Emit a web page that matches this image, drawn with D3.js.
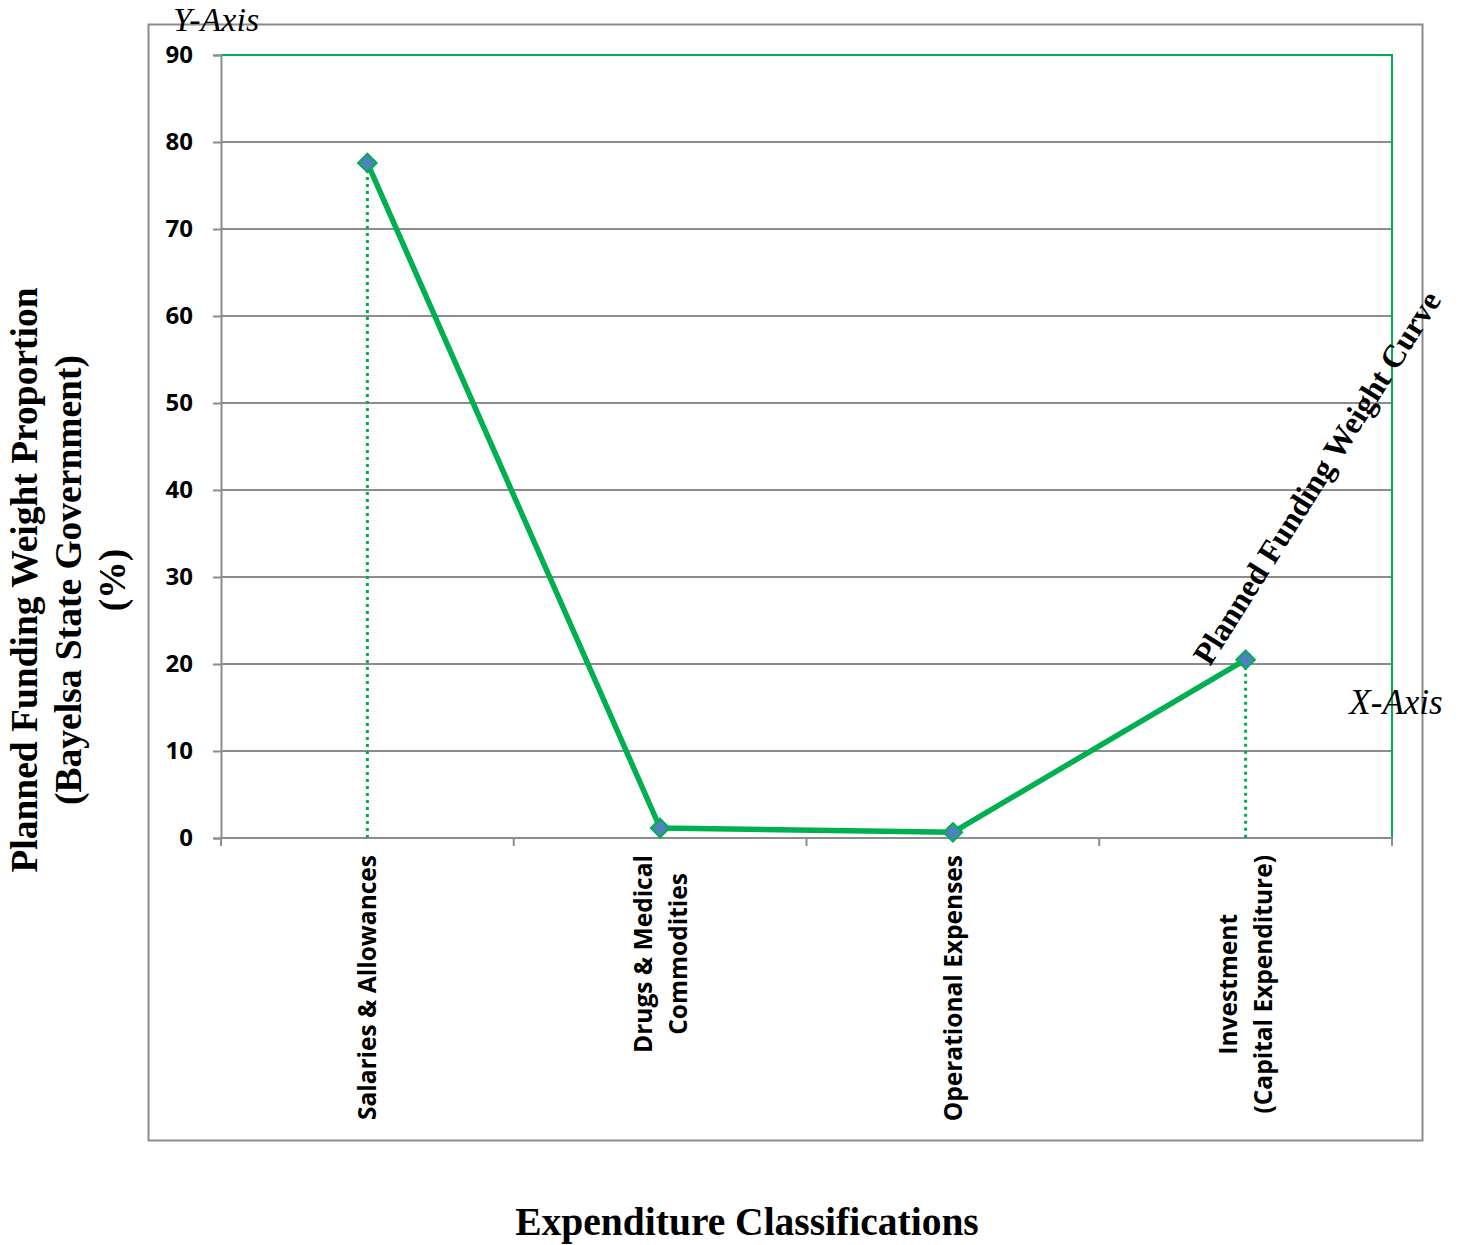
<!DOCTYPE html>
<html>
<head>
<meta charset="utf-8">
<script src="https://cdn.jsdelivr.net/npm/d3@7"></script>
<style>
  body { margin: 0; background: #fff; }
  svg { display: block; }
</style>
</head>
<body>
<div id="chart"></div>
<script>
// chart data
const categories = [
  ["Salaries & Allowances"],
  ["Drugs & Medical", "Commodities"],
  ["Operational Expenses"],
  ["Investment", "(Capital Expenditure)"]
];
const weights = [77.6, 1.15, 0.65, 20.5];
const yTicks = [0, 10, 20, 30, 40, 50, 60, 70, 80, 90];
const yTitleLines = ["Planned Funding Weight Proportion", "(Bayelsa State Government)", "(%)"];
const xTitle = "Expenditure Classifications";
const curveLabel = "Planned Funding Weight Curve";

const W = 1460, H = 1245;
const margin = { top: 55, right: 68, bottom: 407, left: 221 };
const width = W - margin.left - margin.right;
const height = H - margin.top - margin.bottom;

const svg = d3.select("#chart").append("svg")
  .attr("width", W)
  .attr("height", H);

// outer chart frame
svg.append("rect")
  .attr("x", 148.5).attr("y", 24.5)
  .attr("width", 1274).attr("height", 1116)
  .attr("fill", "none")
  .attr("stroke", "#8c8c8c")
  .attr("stroke-width", 2);

const g = svg.append("g")
  .attr("transform", `translate(${margin.left},${margin.top})`);

const x = d3.scaleBand()
  .domain(categories.map((d, i) => i))
  .range([0, width]);

const y = d3.scaleLinear()
  .domain([0, 90])
  .range([height, 0]);

// gridlines
g.append("g")
  .selectAll("line")
  .data(yTicks.filter(d => d > 0 && d < 90))
  .join("line")
  .attr("x1", 0).attr("x2", width)
  .attr("y1", d => y(d)).attr("y2", d => y(d))
  .attr("stroke", "#8c8c8c")
  .attr("stroke-width", 2);

// green plot border (top + right)
g.append("path")
  .attr("d", `M0,${y(90)}H${width}V${y(0)}`)
  .attr("fill", "none")
  .attr("stroke", "#00b050")
  .attr("stroke-width", 2);

// y axis
const yAxis = g.append("g")
  .call(d3.axisLeft(y).tickValues(yTicks).tickSize(8).tickPadding(20));
yAxis.select(".domain").attr("stroke", "#8c8c8c").attr("stroke-width", 2);
yAxis.selectAll(".tick line").attr("stroke", "#8c8c8c").attr("stroke-width", 2);
yAxis.selectAll(".tick text")
  .attr("font-family", "'Open Sans', sans-serif")
  .attr("font-weight", "bold")
  .attr("font-size", 24)
  .attr("fill", "#000");

// x axis (ticks at category boundaries)
const xAxisG = g.append("g").attr("transform", `translate(0,${height})`);
xAxisG.append("line")
  .attr("x1", 0).attr("x2", width)
  .attr("stroke", "#8c8c8c").attr("stroke-width", 2);
xAxisG.selectAll(".xt")
  .data(d3.range(categories.length + 1))
  .join("line")
  .attr("class", "xt")
  .attr("x1", i => i * x.bandwidth()).attr("x2", i => i * x.bandwidth())
  .attr("y1", 0).attr("y2", 8)
  .attr("stroke", "#8c8c8c").attr("stroke-width", 2);

// category labels rotated
const lineGap = 35;
categories.forEach((lines, i) => {
  const cx = x(i) + x.bandwidth() / 2;
  const t = xAxisG.append("text")
    .attr("transform", `translate(${cx},17) rotate(-90)`)
    .attr("font-family", "'Open Sans', sans-serif")
    .attr("font-weight", "bold")
    .attr("font-size", 24.5)
    .attr("fill", "#000");
  const n = lines.length;
  lines.forEach((s, k) => {
    t.append("tspan")
      .attr("x", 0)
      .attr("y", (k - (n - 1) / 2) * lineGap + 9)
      .text(s);
  });
  // centre all lines on the longest one
  const longest = d3.max(t.selectAll("tspan").nodes(), n => n.getComputedTextLength());
  t.selectAll("tspan")
    .attr("text-anchor", "middle")
    .attr("x", -longest / 2);
});

// dotted drop lines
g.append("g")
  .selectAll("line")
  .data(weights)
  .join("line")
  .attr("x1", (d, i) => x(i) + x.bandwidth() / 2)
  .attr("x2", (d, i) => x(i) + x.bandwidth() / 2)
  .attr("y1", d => y(d))
  .attr("y2", y(0))
  .attr("stroke", "#00b050")
  .attr("stroke-width", 3)
  .attr("stroke-dasharray", "3,4");

// curve
const line = d3.line()
  .x((d, i) => x(i) + x.bandwidth() / 2)
  .y(d => y(d));

g.append("path")
  .datum(weights)
  .attr("d", line)
  .attr("fill", "none")
  .attr("stroke", "#00b050")
  .attr("stroke-width", 5.5)
  .attr("stroke-linejoin", "round");

// diamond markers
g.append("g")
  .selectAll("path")
  .data(weights)
  .join("path")
  .attr("transform", (d, i) => `translate(${x(i) + x.bandwidth() / 2},${y(d)})`)
  .attr("d", d3.symbol(d3.symbolDiamond2, 220))
  .attr("fill", "#4f81bd")
  .attr("stroke", "#00b050")
  .attr("stroke-width", 2);

// y axis title
const yt = svg.append("text")
  .attr("transform", "translate(37,580) rotate(-90)")
  .attr("font-family", "'Liberation Serif', 'Times New Roman', serif")
  .attr("font-weight", "bold")
  .attr("font-size", 37.5)
  .attr("text-anchor", "middle")
  .attr("fill", "#000");
yTitleLines.forEach((s, k) => {
  yt.append("tspan").attr("x", 0).attr("y", k * 44).text(s);
});

// x axis title
svg.append("text")
  .attr("x", 747).attr("y", 1235)
  .attr("text-anchor", "middle")
  .attr("font-family", "'Liberation Serif', 'Times New Roman', serif")
  .attr("font-weight", "bold")
  .attr("font-size", 39.5)
  .attr("fill", "#000")
  .text(xTitle);

// axis name annotations
svg.append("text")
  .attr("x", 216).attr("y", 31)
  .attr("text-anchor", "middle")
  .attr("font-family", "'Liberation Serif', serif")
  .attr("font-style", "italic")
  .attr("font-size", 34)
  .attr("fill", "#000")
  .text("Y-Axis");

svg.append("text")
  .attr("x", 1396).attr("y", 714)
  .attr("text-anchor", "middle")
  .attr("font-family", "'Liberation Serif', serif")
  .attr("font-style", "italic")
  .attr("font-size", 35)
  .attr("fill", "#000")
  .text("X-Axis");

// rotated curve label
svg.append("text")
  .attr("transform", "translate(1210,667) rotate(-57.7)")
  .attr("font-family", "'Liberation Serif', 'Times New Roman', serif")
  .attr("font-weight", "bold")
  .attr("font-size", 32)
  .attr("fill", "#000")
  .text(curveLabel);
</script>
</body>
</html>
